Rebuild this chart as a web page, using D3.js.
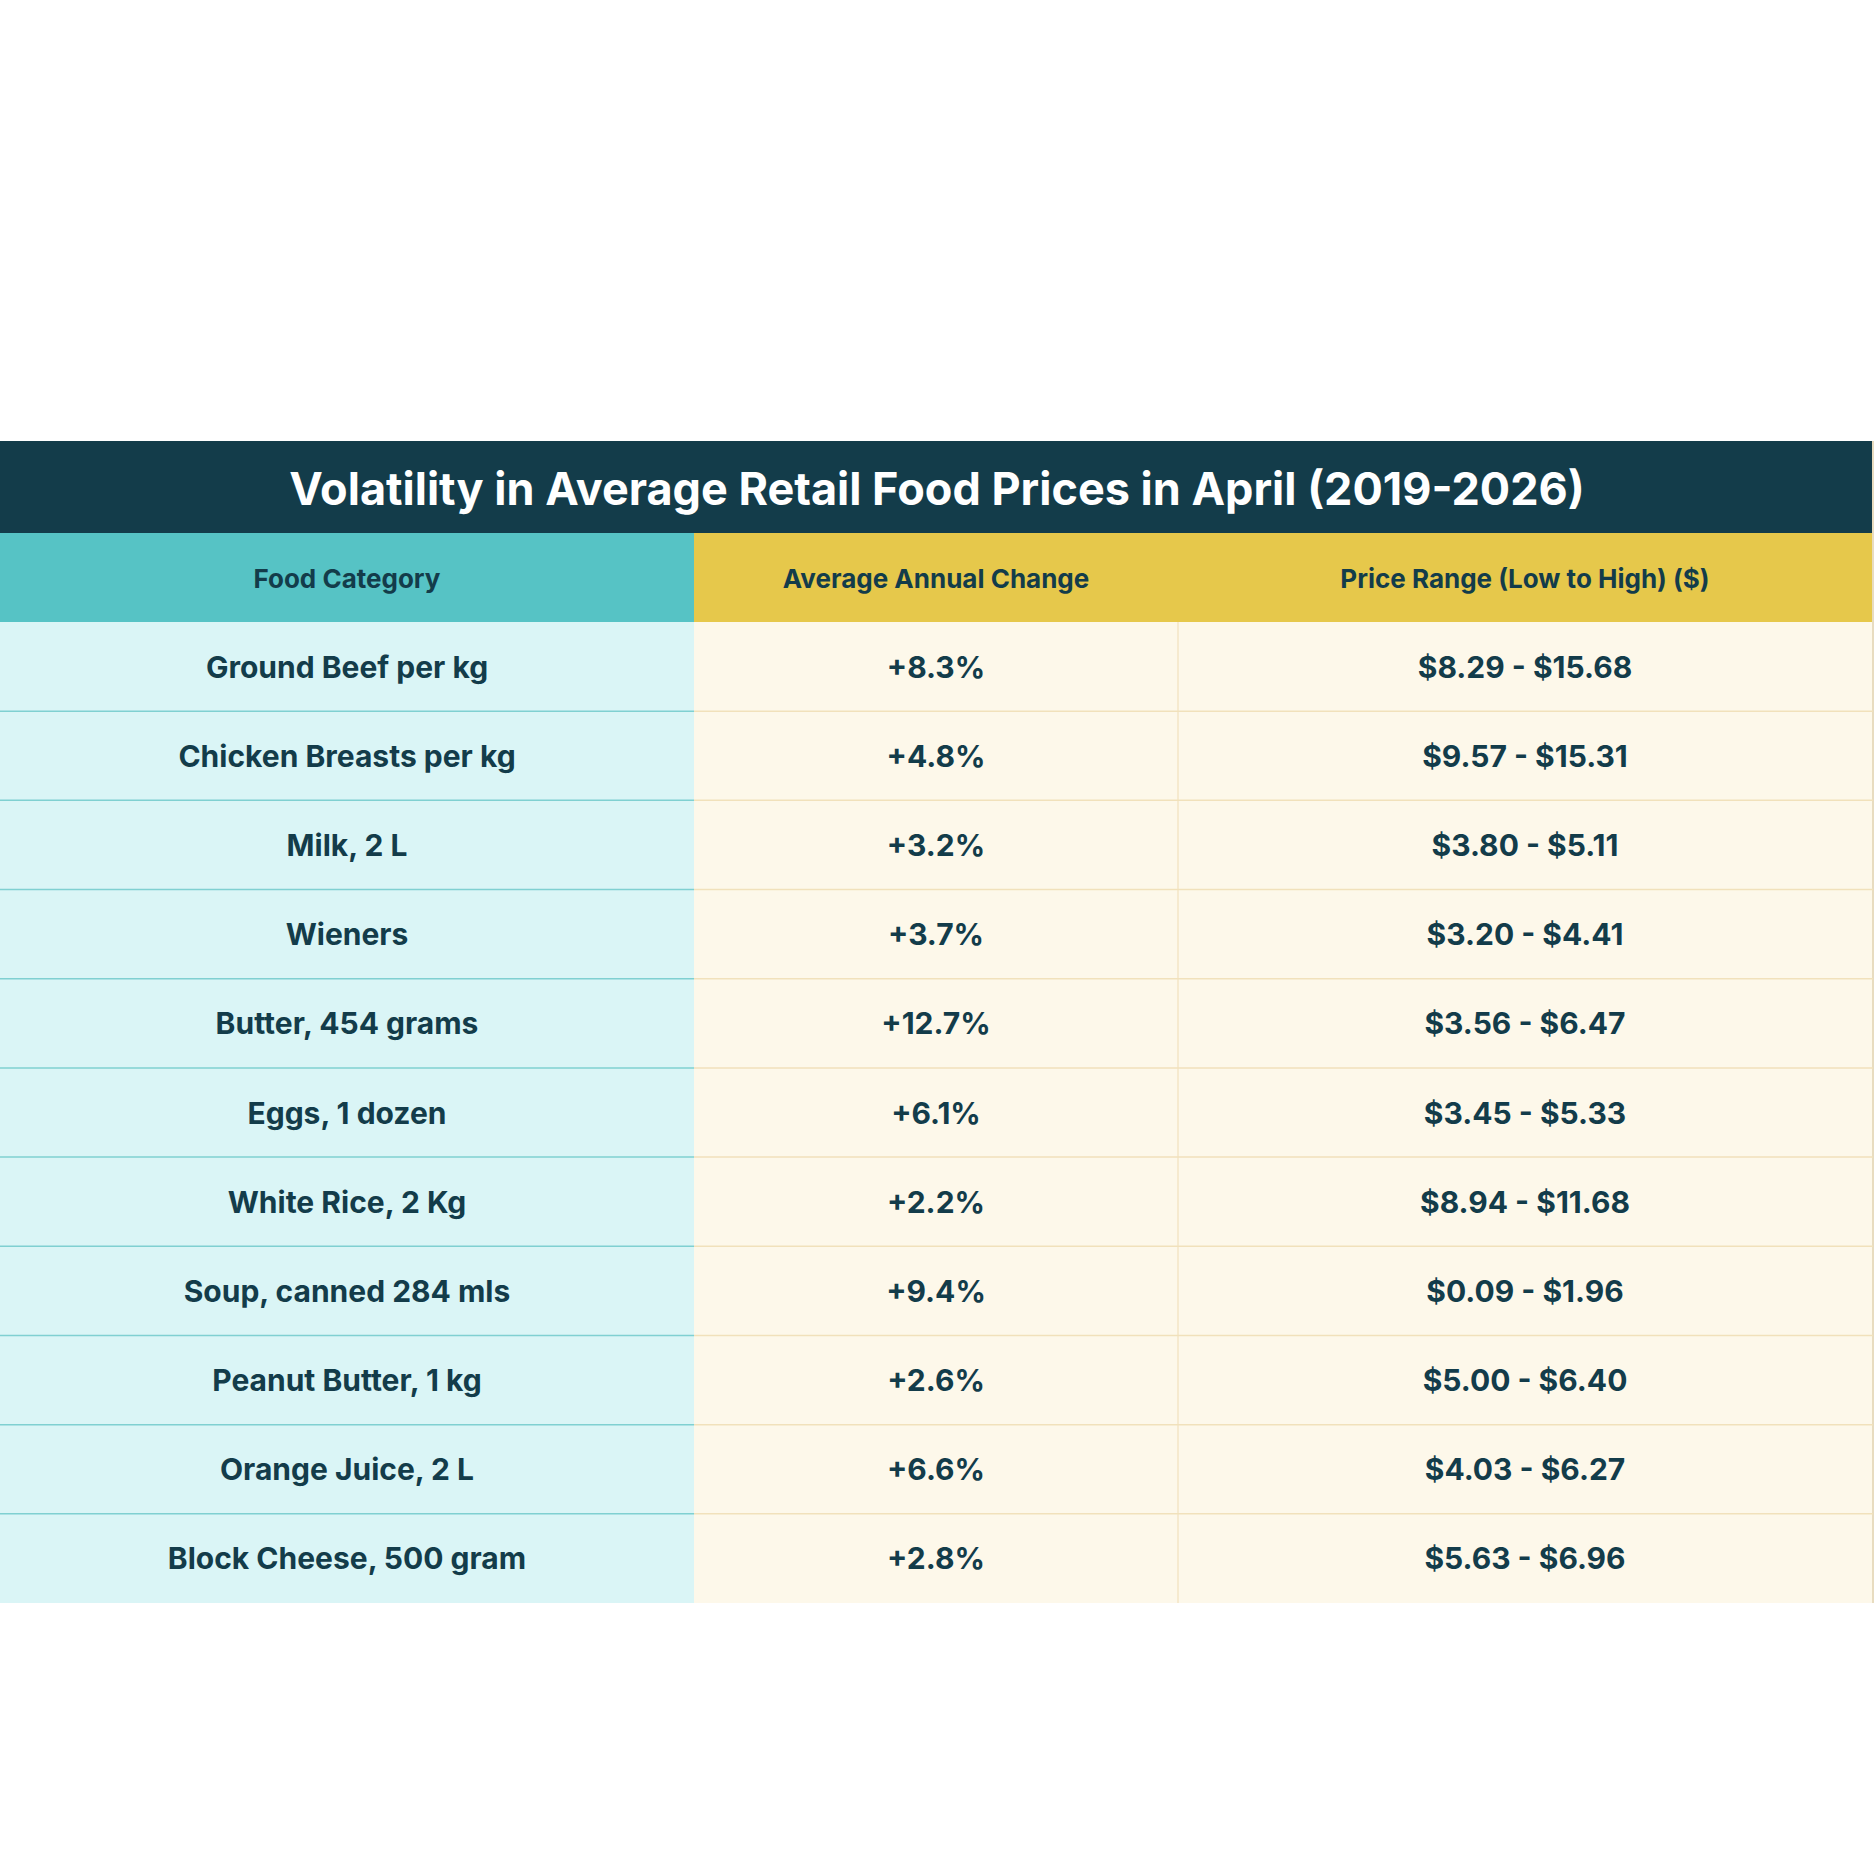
<!DOCTYPE html>
<html><head><meta charset="utf-8">
<script src="https://cdn.jsdelivr.net/npm/d3@7"></script>
<style>body{margin:0;background:#fff}</style>
</head><body>
<script>
const title = "Volatility in Average Retail Food Prices in April (2019-2026)";
const headers = ["Food Category", "Average Annual Change", "Price Range (Low to High) ($)"];
const foods = ["Ground Beef per kg", "Chicken Breasts per kg", "Milk, 2 L", "Wieners", "Butter, 454 grams",
  "Eggs, 1 dozen", "White Rice, 2 Kg", "Soup, canned 284 mls", "Peanut Butter, 1 kg", "Orange Juice, 2 L", "Block Cheese, 500 gram"];
const changes = ["+8.3%", "+4.8%", "+3.2%", "+3.7%", "+12.7%", "+6.1%", "+2.2%", "+9.4%", "+2.6%", "+6.6%", "+2.8%"];
const ranges = ["$8.29 - $15.68", "$9.57 - $15.31", "$3.80 - $5.11", "$3.20 - $4.41", "$3.56 - $6.47", "$3.45 - $5.33",
  "$8.94 - $11.68", "$0.09 - $1.96", "$5.00 - $6.40", "$4.03 - $6.27", "$5.63 - $6.96"];

const W = 1875, H = 1875;
const svg = d3.select("body").append("svg").attr("width", W).attr("height", H)
  .style("font-family", "Inter, 'Open Sans', sans-serif");
const dark = "#133c4a";

const colEdges = [0, 694, 1178, 1873];
const rowY = d3.scaleLinear().domain([0, foods.length]).range([622, 1603]);

// title band
svg.append("rect").attr("x", 0).attr("y", 441).attr("width", 1873).attr("height", 92).attr("fill", dark);
svg.append("text").attr("x", 937).attr("y", 488).attr("text-anchor", "middle").attr("dominant-baseline", "central")
  .attr("fill", "#fff").attr("font-size", 45).attr("font-weight", 700).text(title);

// header
const hColors = ["#56c3c5", "#e6c84b", "#e6c84b"];
const hCenters = [347, 936, 1525];
headers.forEach((h, i) => {
  svg.append("rect").attr("x", colEdges[i]).attr("y", 533).attr("width", colEdges[i + 1] - colEdges[i] + (i < 2 ? 1 : 0))
    .attr("height", 89).attr("fill", hColors[i]);
  svg.append("text").attr("x", hCenters[i]).attr("y", 578).attr("text-anchor", "middle").attr("dominant-baseline", "central")
    .attr("fill", dark).attr("font-size", 26).attr("font-weight", 700).text(h);
});

// body
svg.append("rect").attr("x", 0).attr("y", rowY(0)).attr("width", 694).attr("height", rowY(foods.length) - rowY(0)).attr("fill", "#daf5f6");
svg.append("rect").attr("x", 694).attr("y", rowY(0)).attr("width", 1179).attr("height", rowY(foods.length) - rowY(0)).attr("fill", "#fdf8ea");
svg.append("line").attr("x1", 1178).attr("x2", 1178).attr("y1", rowY(0)).attr("y2", rowY(foods.length)).attr("stroke", "#f3e6c6").attr("stroke-width", 1.5);
svg.append("line").attr("x1", 1873).attr("x2", 1873).attr("y1", 441).attr("y2", rowY(foods.length)).attr("stroke", "#e8dcc0").attr("stroke-width", 2);

d3.range(1, foods.length).forEach(i => {
  svg.append("line").attr("x1", 0).attr("x2", 694).attr("y1", rowY(i)).attr("y2", rowY(i)).attr("stroke", "#7fd0d1").attr("stroke-width", 1.5);
  svg.append("line").attr("x1", 694).attr("x2", 1873).attr("y1", rowY(i)).attr("y2", rowY(i)).attr("stroke", "#f1e1bb").attr("stroke-width", 1.5);
});

const cols = [foods, changes, ranges];
cols.forEach((vals, c) => {
  svg.selectAll(null).data(vals).enter().append("text")
    .attr("x", hCenters[c]).attr("y", (d, i) => (rowY(i) + rowY(i + 1)) / 2)
    .attr("text-anchor", "middle").attr("dominant-baseline", "central")
    .attr("fill", dark).attr("font-size", 30).attr("font-weight", 700).text(d => d);
});
</script>
</body></html>
